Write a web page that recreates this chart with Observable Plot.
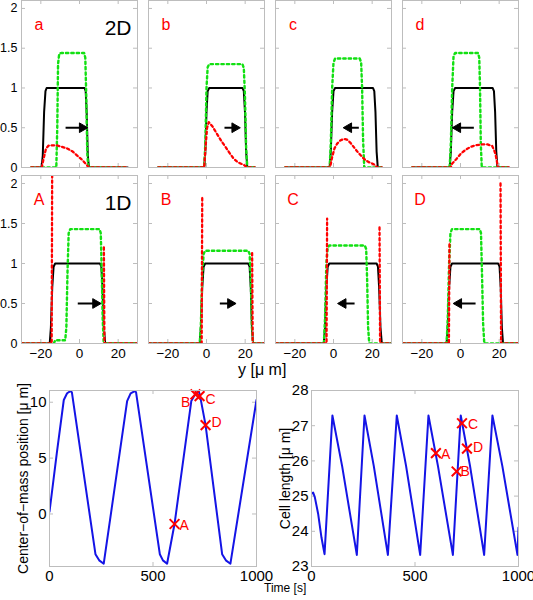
<!DOCTYPE html>
<html><head><meta charset="utf-8">
<script src="https://cdn.jsdelivr.net/npm/d3@7"></script>
<script src="https://cdn.jsdelivr.net/npm/@observablehq/plot@0.6"></script>
<style>
body{margin:0;background:#fff;}
#fig{position:relative;width:533px;height:600px;overflow:hidden;font-family:"Liberation Sans",Arial,sans-serif;}
#fig > svg{position:absolute;}
.lbl{position:absolute;white-space:nowrap;color:#000;line-height:1;}
</style></head><body><div id="fig"></div>
<script>
// ---------- profile panels: ticks and labels ----------
const xTicks = [-20, 0, 20];
const yTicks = [0, 0.5, 1, 1.5, 2];
const panelLetters = ["a", "b", "c", "d", "A", "B", "C", "D"];
const rowTags = ["2D", "1D"];

// ---------- 2D row (x = y [um], value) ----------
const aBlack = [[-25,0],[-19.6,0],[-19.0,0.15],[-18.3,0.7],[-17.6,0.96],[-17,1],[2.6,1],[3.2,0.96],[3.7,0.7],[4.3,0.15],[4.9,0],[25,0]];
const aGreen = [[-25,0],[-12,0],[-11.5,0.5],[-11.1,1.3],[-10.5,1.43],[-9.5,1.44],[2.4,1.44],[3.0,1.38],[3.5,0.9],[4.0,0.2],[4.5,0],[25,0]];
const aRed = [[-25,0],[-19.5,0],[-18.5,0.12],[-17.3,0.24],[-16,0.275],[-12,0.28],[-6.4,0.24],[-3.5,0.2],[-1.2,0.15],[1.2,0.1],[3.1,0.05],[4.8,0],[25,0]];
const aArrow = [[-7.2,0.5,1.4,0.5]];

const bBlack = [[-25,0],[-1.2,0],[-0.6,0.2],[0,0.7],[0.6,0.96],[1.4,1],[18.6,1],[19.3,0.96],[19.9,0.7],[20.5,0.2],[21.1,0],[25,0]];
const bGreen = [[-25,0],[-1.2,0],[-0.6,0.3],[0,1.0],[0.6,1.26],[1.4,1.3],[18.6,1.3],[19.3,1.25],[19.9,0.9],[20.5,0.25],[21.1,0],[25,0]];
const bRed = [[-25,0],[-1.2,0],[-0.5,0.25],[0.3,0.5],[1.2,0.57],[3,0.52],[5.5,0.42],[7.5,0.34],[9.8,0.26],[12,0.18],[14.1,0.11],[16,0.07],[17.6,0.05],[19.5,0.03],[21,0],[25,0]];
const bArrow = [[9.3,0.5,14.6,0.5]];

const cBlack = [[-25,0],[-2.0,0],[-1.4,0.2],[-0.7,0.7],[0,0.96],[0.8,1],[20.4,1],[21.1,0.96],[21.7,0.7],[22.3,0.2],[22.9,0],[25,0]];
const cGreen = [[-25,0],[-2.0,0],[-1.4,0.3],[-0.7,1.0],[0,1.32],[0.8,1.37],[13.6,1.37],[14.3,1.32],[14.8,1.0],[15.3,0.35],[15.9,0],[25,0]];
const cRed = [[-25,0],[-1.8,0],[-0.7,0.13],[0.5,0.24],[1.9,0.3],[3.5,0.34],[5.3,0.36],[7,0.35],[8.8,0.31],[12.3,0.2],[15.7,0.11],[18,0.07],[20,0.05],[21.5,0.03],[22.6,0],[25,0]];
const cArrow = [[13.1,0.5,7.9,0.5]];

const dBlack = [[-25,0],[-5.6,0],[-5.0,0.2],[-4.3,0.7],[-3.6,0.96],[-2.8,1],[16.6,1],[17.3,0.96],[17.9,0.7],[18.5,0.2],[19.1,0],[25,0]];
const dGreen = [[-25,0],[-5.6,0],[-5.0,0.3],[-4.3,1.0],[-3.6,1.4],[-2.8,1.44],[9.1,1.44],[9.7,1.38],[10.1,1.0],[10.5,0.3],[11.0,0],[25,0]];
const dRed = [[-25,0],[-5,0],[-4.3,0.05],[-2,0.11],[0,0.17],[2.5,0.22],[5.2,0.26],[8,0.28],[11.2,0.29],[14,0.29],[16.4,0.27],[17.5,0.21],[18.1,0.17],[18.8,0.08],[19.3,0],[25,0]];
const dArrow = [[6.9,0.5,-1.4,0.5]];

// ---------- 1D row ----------
const ABlack = [[-30,0],[-15.4,0],[-14.8,0.2],[-14.1,0.7],[-13.4,0.96],[-12.6,1],[10.6,1],[11.3,0.96],[11.9,0.7],[12.6,0.2],[13.3,0],[30,0]];
const AGreen = [[-30,0],[-13.3,0],[-12.6,0.04],[-7.4,0.04],[-6.8,0.2],[-6.2,0.9],[-5.6,1.38],[-4.8,1.43],[10.4,1.43],[11.0,1.38],[11.5,0.9],[12.0,0.3],[12.5,0.02],[13.2,0],[30,0]];
const ARedRear = [[-30,0],[-14.4,0],[-14.1,2.4]];
const ARedFront = [[12.6,1.2],[12.9,0],[30,0]];
const AArrow = [[-0.9,0.5,8.3,0.5]];

const BBlack = [[-30,0],[-3.5,0],[-2.9,0.2],[-2.2,0.7],[-1.5,0.96],[-0.7,1],[21.6,1],[22.3,0.96],[22.9,0.7],[23.5,0.2],[24.1,0],[30,0]];
const BGreen = [[-30,0],[-3.5,0],[-2.9,0.25],[-2.2,0.85],[-1.5,1.12],[-0.7,1.16],[21.6,1.16],[22.3,1.12],[22.9,0.8],[23.5,0.2],[24.1,0],[30,0]];
const BRedRear = [[-30,0],[-2.5,0],[-2.2,1.83]];
const BRedFront = [[23.6,1.13],[23.9,0],[30,0]];
const BArrow = [[6.9,0.5,12.4,0.5]];

const CBlack = [[-30,0],[-5.0,0],[-4.4,0.2],[-3.7,0.7],[-3.0,0.96],[-2.2,1],[22.3,1],[23.0,0.96],[23.6,0.7],[24.3,0.2],[25.0,0],[30,0]];
const CGreen = [[-30,0],[-5,0],[-4.4,0.3],[-3.7,1.0],[-3.0,1.2],[-2.2,1.225],[16.2,1.225],[16.9,1.18],[17.4,0.8],[17.9,0.2],[18.5,0],[30,0]];
const CRedRear = [[-30,0],[-3.6,0],[-3.3,1.56]];
const CRedFront = [[23.8,1.45],[24.1,0],[30,0]];
const CArrow = [[10.9,0.5,5,0.5]];

const DBlack = [[-30,0],[-7.2,0],[-6.6,0.2],[-5.9,0.7],[-5.2,0.96],[-4.4,1],[19.5,1],[20.2,0.96],[20.8,0.7],[21.4,0.2],[22.0,0],[30,0]];
const DGreen = [[-30,0],[-7.2,0],[-6.6,0.3],[-5.9,1.0],[-5.2,1.38],[-4.4,1.43],[10.0,1.43],[10.6,1.38],[11.1,0.9],[11.7,0.25],[12.3,0],[30,0]];
const DRedRear = [[-30,0],[-6.0,0],[-5.7,1.27]];
const DRedFront = [[20.7,2.0],[21.0,0],[30,0]];
const DArrow = [[7.8,0.5,-0.9,0.5]];

// ---------- time series ----------
const timeTicks = [0, 500, 1000];
const comTicks = [0, 5, 10];
const lenTicks = [23, 24, 25, 26, 27, 28];
const comSeries = [[0,0.2],[35,5.4],[69,10.2],[85,10.8],[101,11.0],[108,10.9],[222,-3.6],[240,-4.15],[262,-4.45],[375,10.1],[392,10.8],[412,11.0],[418,10.9],[533,-3.6],[548,-4.15],[568,-4.45],[604,-0.9],[685,10.1],[705,10.75],[720,11.0],[726,10.7],[754,7.95],[834,-3.6],[852,-4.15],[874,-4.45],[1000,10.2]];
const lenSeries = [[0,25.07],[8,25.1],[16,24.97],[32,24.5],[48,23.83],[63,23.35],[101,27.29],[148,25.85],[219,23.33],[256,27.29],[301,25.85],[369,23.33],[412,27.29],[457,25.85],[525,23.33],[565,27.29],[611,25.85],[683,23.33],[721,27.29],[766,25.85],[834,23.33],[874,27.29],[922,25.85],[995,23.33],[1000,24.1]];
const markerNames = ["A", "B", "C", "D"];
const comMarkT = [604, 705, 725, 754];
const comMarkV = [-0.9, 10.7, 10.55, 7.95];
const lenMarkT = [601, 701, 727, 751];
const lenMarkV = [26.22, 25.7, 27.07, 26.35];

// ---------- build ----------
const fig = document.getElementById("fig");
const FONT = '"Liberation Sans", Arial, Helvetica, sans-serif';
const GREEN = "#12e012";
const RED = "#ff0000";
const RED_LIGHT = "#f5a0a0";
const FRAME = "#bdbdbd";
const BLUE = "#1414e6";
const fmt = d => d < 0 ? "\u2212" + Math.abs(d) : String(d);

const panels = [
  {black:aBlack, green:aGreen, red:[aRed], arrow:aArrow},
  {black:bBlack, green:bGreen, red:[bRed], arrow:bArrow},
  {black:cBlack, green:cGreen, red:[cRed], arrow:cArrow},
  {black:dBlack, green:dGreen, red:[dRed], arrow:dArrow},
  {black:ABlack, green:AGreen, red:[ARedRear, ARedFront], arrow:AArrow},
  {black:BBlack, green:BGreen, red:[BRedRear, BRedFront], arrow:BArrow},
  {black:CBlack, green:CGreen, red:[CRedRear, CRedFront], arrow:CArrow},
  {black:DBlack, green:DGreen, red:[DRedRear, DRedFront], arrow:DArrow}
];
const colLeft = [21, 148, 275, 402];
const rowTop = [0, 175];
const rowH = [167, 168];
const PW = 116;

function place(svg, left, top) {
  svg.style.left = left + "px";
  svg.style.top = top + "px";
  fig.appendChild(svg);
}

function innerTicks(xt, yt, W, H) {
  const s = {stroke: FRAME, strokeWidth: 1};
  return [
    Plot.ruleX(xt, {...s, insetTop: H - 4}),
    Plot.ruleX(xt, {...s, insetBottom: H - 4}),
    Plot.ruleY(yt, {...s, insetRight: W - 4}),
    Plot.ruleY(yt, {...s, insetLeft: W - 4})
  ];
}

function arrowMarks(data) {
  return [
    Plot.link(data, {x1: d => d[0], y1: d => d[1], x2: d => d[2], y2: d => d[3], stroke: "black", strokeWidth: 2}),
    Plot.dot(data, {x: d => d[2], y: d => d[3], symbol: "triangle", r: 3.6, fill: "black", stroke: "black", strokeWidth: 1,
      rotate: d => d[2] > d[0] ? 90 : -90})
  ];
}

panels.forEach((p, i) => {
  const row = Math.floor(i / 4), col = i % 4;
  const H = rowH[row];
  const ml = col === 0 ? 21 : 1, mt = 1, mr = 1, mb = row === 1 ? 26 : 1;
  const marks = [
    ...innerTicks(xTicks, yTicks, PW, H),
    Plot.line(p.black, {stroke: "black", strokeWidth: 2, clip: true}),
    Plot.line(p.green, {stroke: GREEN, strokeWidth: 2.4, strokeDasharray: "2.4,3", clip: true}),
    ...p.red.map(r => Plot.line(r, {stroke: RED_LIGHT, strokeWidth: 1, clip: true})),
    ...p.red.map(r => Plot.line(r, {stroke: RED, strokeWidth: 2.3, strokeDasharray: "2.3,3", clip: true})),
    ...arrowMarks(p.arrow),
    Plot.text([panelLetters[i]], {frameAnchor: "top-left", dx: 17.5, dy: 18, fill: RED, fontSize: 16, textAnchor: "middle"}),
    Plot.frame({stroke: FRAME})
  ];
  if (col === 0) {
    marks.push(Plot.text([rowTags[row]], {frameAnchor: "top-right", dx: -6, dy: 20, fill: "black", fontSize: 21, textAnchor: "end"}));
    marks.push(Plot.axisY(yTicks, {anchor: "left", tickFormat: fmt, tickSize: 0, tickPadding: 4, fontSize: 12.5, label: null}));
  }
  if (row === 1) {
    marks.push(Plot.axisX(xTicks, {anchor: "bottom", tickFormat: fmt, tickSize: 0, tickPadding: 5, fontSize: 13.5, label: null}));
  }
  const svg = Plot.plot({
    width: ml + PW + mr, height: mt + H + mb,
    marginLeft: ml, marginRight: mr, marginTop: mt, marginBottom: mb,
    style: {fontSize: "13.5px", fontFamily: FONT, background: "transparent", overflow: "visible", color: "black"},
    x: {domain: [-30, 30], axis: null},
    y: {domain: [0, 2.1], axis: null},
    marks
  });
  place(svg, colLeft[col] - ml, rowTop[row] - mt);
});

// axis title for profiles
const yl = document.createElement("div");
yl.className = "lbl"; yl.style.fontSize = "16px"; yl.textContent = "y [μ m]";
yl.style.left = "238px"; yl.style.top = "362px";
fig.appendChild(yl);

// time series plots
function tsPlot({series, yDomain, yTicksArr, markT, markV, title, frameLeft, offsets}) {
  const W = 207, H = 176;
  const ml = frameLeft === 49 ? 49 : 40, mt = 1, mr = 1, mb = 30;
  const marks = [
    ...innerTicks(timeTicks, yTicksArr, W, H),
    Plot.line(series, {stroke: BLUE, strokeWidth: 2, clip: true}),
    Plot.dot(markerNames, {x: (d, i) => markT[i], y: (d, i) => markV[i], symbol: "times", r: 4.5, stroke: RED, strokeWidth: 2}),
    ...markerNames.map((n, i) => Plot.text([n], {x: () => markT[i], y: () => markV[i], dx: offsets[i][0], dy: offsets[i][1], fill: RED, fontSize: 14, textAnchor: offsets[i][0] < 0 ? "end" : "start"})),
    Plot.text([title], {frameAnchor: "left", dx: -26, rotate: -90, textAnchor: "middle", lineAnchor: "middle", fontSize: 14, fill: "black"}),
    Plot.frame({stroke: FRAME})
  ];
  const svg = Plot.plot({
    width: ml + W + mr, height: mt + H + mb,
    marginLeft: ml, marginRight: mr, marginTop: mt, marginBottom: mb,
    style: {fontSize: "15px", fontFamily: FONT, background: "transparent", overflow: "visible", color: "black"},
    x: {domain: [0, 1000], ticks: timeTicks, tickFormat: fmt, tickSize: 0, tickPadding: 4, label: null},
    y: {domain: yDomain, ticks: yTicksArr, tickFormat: fmt, tickSize: 0, tickPadding: 3, label: null},
    marks
  });
  place(svg, frameLeft - ml, 390 - mt);
}

tsPlot({series: comSeries, yDomain: [-4.7, 11.05], yTicksArr: comTicks, markT: comMarkT, markV: comMarkV,
  title: "Center−of−mass position [μ m]", frameLeft: 49,
  offsets: [[5, 1], [-5, 8], [6, 3], [6, -3]]});
tsPlot({series: lenSeries, yDomain: [23, 28], yTicksArr: lenTicks, markT: lenMarkT, markV: lenMarkV,
  title: "Cell length [μ m]", frameLeft: 311,
  offsets: [[5, 1], [4, 0], [6, 1], [6, -1]]});

const tl = document.createElement("div");
tl.className = "lbl"; tl.style.fontSize = "12px"; tl.textContent = "Time [s]";
tl.style.left = "264px"; tl.style.top = "582px";
fig.appendChild(tl);
</script></body></html>
